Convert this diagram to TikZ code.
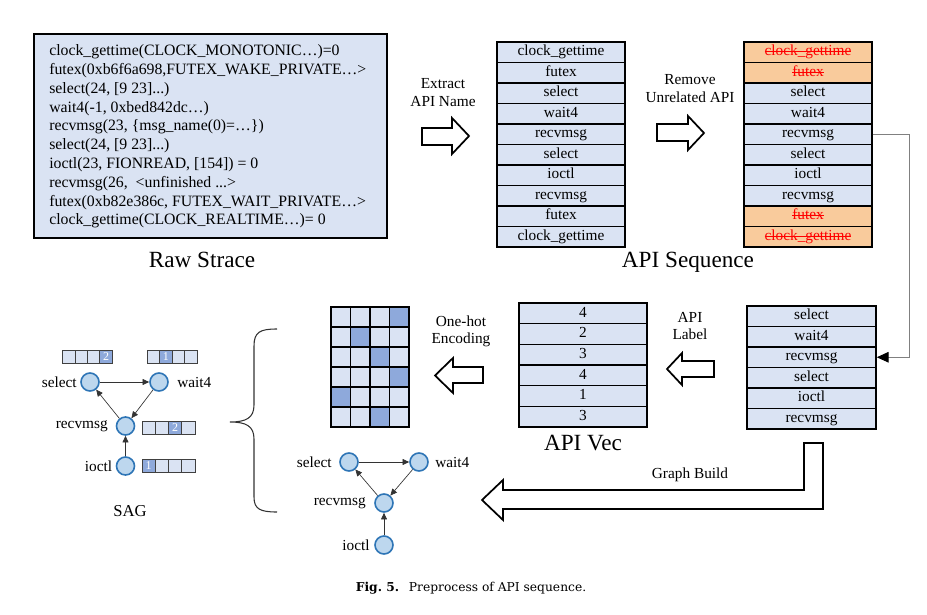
\documentclass[tikz,border=0pt]{standalone}
\usepackage{fontspec}
\setmainfont{Liberation Serif}
\newfontfamily\capfont{DejaVu Serif}
\newcommand\strk[1]{\setbox0=\hbox{#1}\copy0\kern-\wd0\rule[0.25em]{\wd0}{0.7pt}}
\usetikzlibrary{arrows.meta}
\definecolor{lb}{HTML}{DAE3F3}
\definecolor{db}{HTML}{8EA9DB}
\definecolor{org}{HTML}{F9CB9C}
\definecolor{cfill}{HTML}{BDD7EE}
\definecolor{cdraw}{HTML}{2E75B6}
\definecolor{conn}{HTML}{808080}
\begin{document}
\begin{tikzpicture}[x=0.75pt,y=-0.75pt,
  txt/.style={font=\fontsize{11.5}{13}\selectfont, inner sep=0pt},
  big/.style={font=\fontsize{17.4}{20}\selectfont, inner sep=0pt},
  row/.style={draw, line width=1.1pt, fill=lb, minimum width=96pt, minimum height=15.4pt, inner sep=0pt, text height=7.9pt, text depth=2.4pt, font=\fontsize{11.5}{13}\selectfont},
  rem/.style={row, fill=org, text=red},
  cell/.style={draw, line width=1.1pt, fill=lb, minimum width=14.6pt, minimum height=15pt, inner sep=0pt},
  hot/.style={cell, fill=db},
  vcell/.style={draw=black!75, line width=0.6pt, fill=lb, minimum width=9.4pt, minimum height=9.8pt, inner sep=0pt, font=\fontsize{9}{9}\selectfont, text=white},
  vhot/.style={vcell, fill=db},
  cnode/.style={circle, draw=cdraw, line width=1.2pt, fill=cfill, minimum size=13.5pt, inner sep=0pt},
  edge/.style={draw=black!80, line width=0.5pt, -{Triangle[length=5pt,width=4.5pt]}},
  blk/.style={draw=black, line width=1.3pt, fill=white, line join=miter},
]
\useasboundingbox (0,0) rectangle (927,614);

% Raw strace
\node[draw, line width=1.6pt, fill=lb, minimum width=264.75pt, minimum height=153pt, inner sep=0pt] (raw) at (210.5,136) {};
\node[txt, anchor=west, align=left, font=\fontsize{11.85}{14.1}\selectfont] (rawtext) at (49,136.5) {%
clock\_gettime(CLOCK\_MONOTONIC…)=0\\
futex(0xb6f6a698,FUTEX\_WAKE\_PRIVATE…>\\
select(24, [9 23]...)\\
wait4(-1, 0xbed842dc…)\\
recvmsg(23, \{msg\_name(0)=…\})\\
select(24, [9 23]...)\\
ioctl(23, FIONREAD, [154]) = 0\\
recvmsg(26,\ \ <unfinished ...>\\
futex(0xb82e386c, FUTEX\_WAIT\_PRIVATE…>\\
clock\_gettime(CLOCK\_REALTIME…)= 0};
\node[big] (rawlbl) at (202,260) {Raw Strace};

% Extract arrow
\draw[blk] (422,128)--(452,128)--(452,118)--(469,136)--(452,154)--(452,145)--(422,145)--cycle;
\node[txt, align=center] (extlbl) at (443,92.5) {Extract\\API Name};

% API sequence list 1
\foreach \t [count=\i] in {clock\_gettime,futex,select,wait4,recvmsg,select,ioctl,recvmsg,futex,clock\_gettime}
  \node[row] (a\i) at (561,{31.75+20.5*\i}) {\t};

% Remove arrow
\draw[blk] (657,124)--(688,124)--(688,116)--(704,133)--(688,150)--(688,141)--(657,141)--cycle;
\node[txt, align=center] (remlbl) at (690,88.5) {Remove\\Unrelated API};

% API sequence list 2
\node[rem] (b1) at (808,52.25) {\strk{clock\_gettime}};
\node[rem] (b2) at (808,72.75) {\strk{futex}};
\node[row] (b3) at (808,93.25) {select};
\node[row] (b4) at (808,113.75) {wait4};
\node[row] (b5) at (808,134.25) {recvmsg};
\node[row] (b6) at (808,154.75) {select};
\node[row] (b7) at (808,175.25) {ioctl};
\node[row] (b8) at (808,195.75) {recvmsg};
\node[rem] (b9) at (808,216.25) {\strk{futex}};
\node[rem] (b10) at (808,236.75) {\strk{clock\_gettime}};
\node[big] (seqlbl) at (688,262) {API Sequence};

% List 3
\foreach \t [count=\i] in {select,wait4,recvmsg,select,ioctl,recvmsg}
  \node[row, minimum width=96.75pt] (c\i) at (811.5,{306+20.5*(\i-0.5)}) {\t};

\draw[conn, line width=0.8pt, -{Triangle[length=9pt,width=8pt,fill=black,color=black]}] (b5.east) -- ++(37,0) |- (c3.east);

% API label arrow
\draw[blk] (714,361)--(682,361)--(682,353)--(667,369)--(682,385)--(682,377)--(714,377)--cycle;
\node[txt, align=center] (apilbl) at (690,326) {API\\Label};

% API Vec
\foreach \t [count=\i] in {4,2,3,4,1,3}
  \node[row, minimum height=15.5pt] (v\i) at (583,{303+20.67*(\i-0.5)}) {\t};
\node[big] (veclbl) at (583,443) {API Vec};

% One-hot arrow
\draw[blk] (483,367)--(453,367)--(453,358)--(435,375.5)--(453,393)--(453,383)--(483,383)--cycle;
\node[txt, align=center] (onelbl) at (461,331.5) {One-hot\\Encoding};

% Grid
\foreach \h [count=\i] in {4,2,3,4,1,3}{
  \foreach \j in {1,2,3,4}{
    \ifnum\j=\h
      \node[hot] (g\i-\j) at ({331+19.5*(\j-0.5)},{307+20*(\i-0.5)}) {};
    \else
      \node[cell] (g\i-\j) at ({331+19.5*(\j-0.5)},{307+20*(\i-0.5)}) {};
    \fi
  }
}

% Brace
\draw[line width=0.8pt, black!80] (277,329) .. controls (260,329) and (254,332) .. (254,346) -- (254,405) .. controls (254,418) and (246,422) .. (230,422) .. controls (246,422) and (254,426) .. (254,439) -- (254,497) .. controls (254,509) and (260,512) .. (277,512);

% SAG
\node[cnode] (s1) at (90,382) {};
\node[cnode] (s2) at (159,382) {};
\node[cnode] (s3) at (125.5,426) {};
\node[cnode] (s4) at (125.5,466) {};
\node[txt, anchor=east] (s1l) at (77,382) {select};
\node[txt, anchor=west] (s2l) at (177,382) {wait4};
\node[txt, anchor=east] (s3l) at (108,426) {recvmsg};
\node[txt, anchor=east] (s4l) at (112.5,466) {ioctl};
\draw[edge] (s1) -- (s2);
\draw[edge] (s2) -- (s3);
\draw[edge] (s3) -- (s1);
\draw[edge] (s4) -- (s3);
\foreach \k in {1,2,3}
  \node[vcell] (p1-\k) at ({63+12.3*(\k-0.5)},356.5) {};
\node[vhot] (p1-4) at ({63+12.3*3.5},356.5) {2};
\foreach \k in {1,3,4}
  \node[vcell] (p2-\k) at ({147+12.5*(\k-0.5)},356.5) {};
\node[vhot] (p2-2) at ({147+12.5*1.5},356.5) {1};
\foreach \k in {1,2,4}
  \node[vcell, minimum width=9.9pt] (p3-\k) at ({142+13.25*(\k-0.5)},427.5) {};
\node[vhot, minimum width=9.9pt] (p3-3) at ({142+13.25*2.5},427.5) {2};
\foreach \k in {2,3,4}
  \node[vcell, minimum width=9.9pt] (p4-\k) at ({142+13.25*(\k-0.5)},466) {};
\node[vhot, minimum width=9.9pt] (p4-1) at ({142+13.25*0.5},466) {1};
\node[txt, font=\fontsize{12.5}{14}\selectfont] (saglbl) at (130,511) {SAG};

% Bottom graph
\node[cnode] (t1) at (349,462) {};
\node[cnode] (t2) at (419,462) {};
\node[cnode] (t3) at (384,503) {};
\node[cnode] (t4) at (384,545) {};
\node[txt, anchor=east] (t1l) at (332,462) {select};
\node[txt, anchor=west] (t2l) at (435,462) {wait4};
\node[txt, anchor=east] (t3l) at (366,503) {recvmsg};
\node[txt, anchor=east] (t4l) at (370,545) {ioctl};
\draw[edge] (t1) -- (t2);
\draw[edge] (t2) -- (t3);
\draw[edge] (t3) -- (t1);
\draw[edge] (t4) -- (t3);

% Graph build arrow
\draw[blk] (823,443)--(804,443)--(804,490)--(503,490)--(503,480)--(482,500)--(503,520)--(503,509)--(823,509)--cycle;
\node[txt] (gblbl) at (690,475) {Graph Build};

% Caption
\node[inner sep=0pt, font=\capfont\fontsize{9.2}{11}\selectfont] (cap) at (471,588) {\textbf{Fig.\ 5.}\hspace{0.8em}Preprocess of API sequence.};
\end{tikzpicture}
\end{document}
